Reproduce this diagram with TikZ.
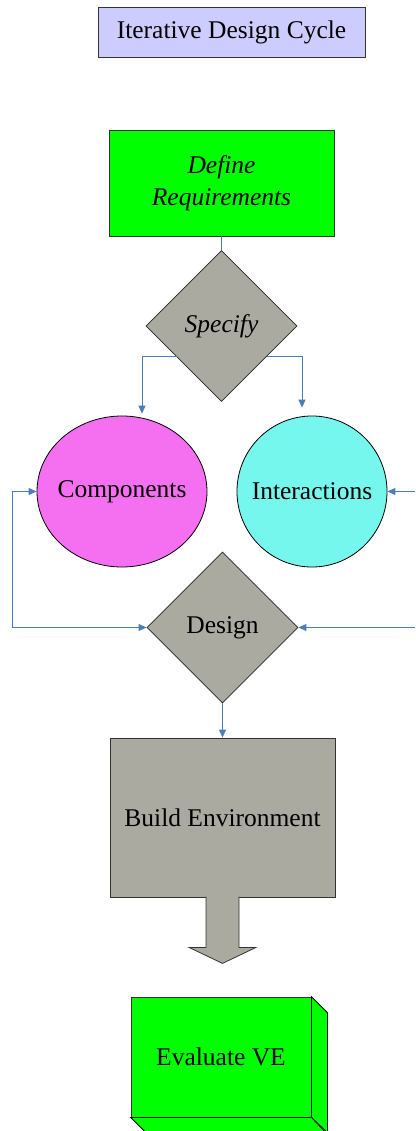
\documentclass[tikz,border=0pt]{standalone}
\usepackage{fontspec}
\setmainfont{Liberation Serif}
\usetikzlibrary{shapes.geometric,arrows.meta,calc}

\definecolor{titleblue}{RGB}{204,204,255}
\definecolor{reqgreen}{RGB}{0,255,0}
\definecolor{stonegray}{RGB}{170,170,160}
\definecolor{compmagenta}{RGB}{245,112,240}
\definecolor{intcyan}{RGB}{118,247,238}
\definecolor{linkblue}{RGB}{74,126,187}

\begin{document}
\begin{tikzpicture}[x=1pt, y=-1pt,
    every node/.style={font=\fontsize{25.5}{31}\selectfont, text=black},
    box style/.style={draw=black!80, line width=0.8pt, rectangle, inner sep=0pt},
    decision style/.style={draw=black!85, line width=0.8pt, diamond, aspect=1, inner sep=0pt,
        minimum width=151pt, minimum height=151pt, fill=stonegray},
    bubble style/.style={draw=black, line width=0.8pt, ellipse, inner ysep=0pt, inner xsep=-14pt, minimum height=151pt},
    link/.style={draw=linkblue, line width=0.9pt, -{Triangle[length=8pt,width=7pt]}}]
    \useasboundingbox (0,0) rectangle (415,1131);

    \pgfmathsetmacro{\depth}{16}

    \node[box style, fill=titleblue, minimum width=267pt, minimum height=50pt] (title) at (231.5,32.5) {Iterative Design Cycle};

    \node[box style, fill=reqgreen, minimum width=225pt, minimum height=106pt, align=center, font=\fontsize{25.5}{32}\selectfont\itshape] (req) at (221.5,183) {Define\\Requirements};

    \node[decision style, font=\fontsize{25.5}{31}\selectfont\itshape] (spec) at (221.5,326) {Specify};

    \node[bubble style, fill=compmagenta, minimum width=170pt] (comp) at (122,491.5) {Components};
    \node[bubble style, fill=intcyan, minimum width=150pt] (int) at (312,491.5) {Interactions};

    \node[decision style] (des) at (222.5,627.5) {Design};

    \node[box style, fill=stonegray, minimum width=225pt, minimum height=159pt] (build) at (222.5,817.5) {Build Environment};

    \node[box style, fill=reqgreen, minimum width=180pt, minimum height=120pt] (eval) at (221,1057) {Evaluate VE};

    \coordinate (rin) at (415,491.5);
    \coordinate (rdes) at (415,627.5);

    % tail of the build box
    \filldraw[fill=stonegray, draw=black!80, line width=0.8pt] ($(build.south)+(-16.5,-0.8)$) -- ++(0,50.8) -- ++(-17,0)
        -- ($(build.south)+(0,66)$) -- ($(build.south)+(33.5,50)$) -- ++(-17,0) -- ++(0,-50.8);

    % depth of the evaluate box
    \filldraw[fill=reqgreen, draw=black, line width=0.8pt] (eval.north east) -- ++(\depth,\depth) -- ++(0,120) -- (eval.south east) -- cycle;
    \filldraw[fill=reqgreen, draw=black, line width=0.8pt] (eval.south west) -- ++(\depth,\depth) -- ++(180,0) -- (eval.south east) -- cycle;

    \draw[draw=linkblue, line width=0.9pt] (req.south) -- (spec.north);
    \draw[link] ($(spec.center)+(-45,30)$) -| ($(comp.north)+(20,-2)$);
    \draw[link] ($(spec.center)+(45,30)$) -| ($(int.north)+(-10,-8)$);

    \draw[link, {Triangle[length=8pt,width=7pt]}-{Triangle[length=8pt,width=7pt]}] (comp.west) -- ++(-24,0) |- (des.west);
    \draw[link] (rin) -- (int.east);
    \draw[link] (rdes) -- (des.east);

    \draw[link] (des.south) -- (build.north);

\end{tikzpicture}
\end{document}
